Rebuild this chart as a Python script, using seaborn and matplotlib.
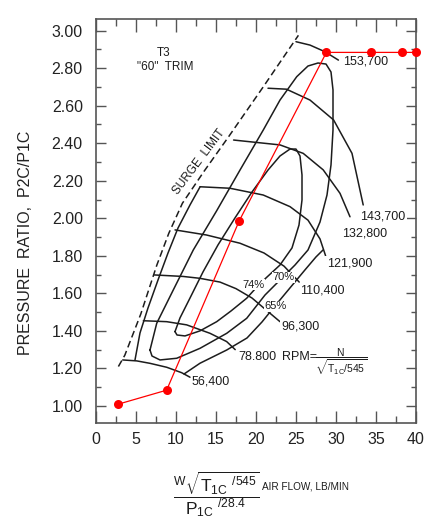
import matplotlib
matplotlib.use('Agg')
import matplotlib.pyplot as plt
import seaborn as sns
from matplotlib.ticker import MultipleLocator, FormatStrFormatter

# operating line (red points)
op_flow = [2.75, 8.83, 17.9, 28.8, 34.35, 38.3, 40.0]
op_pr = [1.009, 1.084, 1.986, 2.884, 2.884, 2.884, 2.884]

# surge limit (dashed)
surge_flow = [2.8, 3.6, 4.6, 5.6, 6.6, 7.6, 9.1, 10.8, 13.5, 16.5, 20.9, 25.3]
surge_pr = [1.21, 1.27, 1.38, 1.49, 1.62, 1.75, 1.92, 2.08, 2.25, 2.43, 2.70, 2.975]

# corrected speed lines
s56_flow = [3.34, 5.09, 6.75, 8.84, 10.71, 11.75]
s56_pr = [1.245, 1.240, 1.227, 1.206, 1.177, 1.153]
s78_flow = [5.92, 8.83, 11.33, 14.25, 16.33, 17.4]
s78_pr = [1.454, 1.449, 1.432, 1.387, 1.343, 1.30]
s96_flow = [7.3, 10.9, 13.0, 15.5, 17.5, 19.5, 21.3, 23.0]
s96_pr = [1.698, 1.690, 1.680, 1.660, 1.625, 1.575, 1.51, 1.449]
s110_flow = [9.88, 13.8, 18.0, 21.0, 23.5, 25.4]
s110_pr = [1.938, 1.911, 1.867, 1.815, 1.745, 1.66]
s121_flow = [13.0, 16.75, 20.9, 24.25, 26.5, 28.0, 28.7]
s121_pr = [2.168, 2.160, 2.124, 2.062, 1.99, 1.89, 1.80]
s132_flow = [17.2, 23.0, 25.9, 28.4, 30.5, 31.75]
s132_pr = [2.417, 2.391, 2.346, 2.258, 2.133, 2.008]
s143_flow = [21.5, 23.8, 26.75, 29.7, 32.0, 33.4]
s143_pr = [2.693, 2.688, 2.630, 2.524, 2.346, 2.071]
s153_flow = [25.0, 26.75, 28.6, 30.3]
s153_pr = [2.941, 2.923, 2.888, 2.843]

speed_labels = ['56,400', '78.800', '96,300', '110,400', '121,900', '132,800', '143,700', '153,700']
speed_label_x = [12.0, 17.8, 23.2, 25.5, 28.84, 30.7, 33.0, 30.9]
speed_label_y = [1.129, 1.263, 1.4225, 1.614, 1.760, 1.920, 2.009, 2.838]

# efficiency contours
e65a_flow = [4.875, 5.5, 6.5, 7.75, 9.0, 10.25, 11.75, 13.0]
e65a_pr = [1.245, 1.389, 1.522, 1.671, 1.815, 1.948, 2.071, 2.167]
e65b_flow = [11.0, 13.0, 16.34, 18.875, 20.75, 22.375, 24.25, 26.125, 27.5, 28.375]
e65b_pr = [1.17, 1.2275, 1.298, 1.362, 1.4475, 1.533, 1.629, 1.725, 1.794, 1.831]
e70_flow = [6.75, 7.59, 9.66, 12.16, 15.09, 18.0, 20.91, 23.0, 25.09, 26.5, 27.75, 28.75, 29.375,
            29.625, 29.625, 29.375, 28.875, 28.0, 26.5, 24.875, 23.375, 21.125, 18.84, 16.34,
            13.0, 10.09, 8.0, 7.0, 6.75]
e70_pr = [1.298, 1.4405, 1.618, 1.831, 2.0405, 2.257, 2.4705, 2.630, 2.7545, 2.8115, 2.8275, 2.822,
          2.7795, 2.684, 2.4705, 2.284, 2.124, 1.980, 1.831, 1.751, 1.687, 1.591, 1.467, 1.387,
          1.307, 1.254, 1.245, 1.266, 1.298]
e74_flow = [9.875, 10.5, 11.75, 13.375, 15.25, 17.375, 19.5, 21.5, 23.0, 24.25, 25.0, 25.5, 25.75,
            25.75, 25.375, 24.5, 23.0, 21.25, 19.875, 18.84, 16.875, 15.09, 13.0, 11.125, 10.125, 9.875]
e74_pr = [1.396, 1.469, 1.575, 1.714, 1.858, 2.002, 2.140, 2.257, 2.332, 2.369, 2.369, 2.332, 2.231,
          2.0975, 1.964, 1.842, 1.751, 1.682, 1.623, 1.574, 1.506, 1.449, 1.400, 1.373, 1.378, 1.396]

eff_labels = ['74%', '70%', '65%']
eff_label_x = [19.66, 23.4, 22.4]
eff_label_y = [1.645, 1.685, 1.530]

sns.set_style('ticks')
plt.rcParams['font.family'] = ['Liberation Sans', 'DejaVu Sans']
plt.rcParams['mathtext.fontset'] = 'custom'
plt.rcParams['mathtext.rm'] = 'Liberation Sans'
plt.rcParams['mathtext.it'] = 'Liberation Sans'

fig = plt.figure(figsize=(4.41, 5.23), dpi=100)
ax = fig.add_axes([96 / 441, 1 - 423 / 523, 320 / 441, 404 / 523])

line_kw = dict(color='#1c1c1c', linewidth=1.1, sort=False, estimator=None)

sns.lineplot(x=surge_flow, y=surge_pr, ax=ax, linestyle=(0, (4.5, 2.5)), **line_kw)

speeds = [(s56_flow, s56_pr), (s78_flow, s78_pr), (s96_flow, s96_pr), (s110_flow, s110_pr),
          (s121_flow, s121_pr), (s132_flow, s132_pr), (s143_flow, s143_pr), (s153_flow, s153_pr)]
for fx, fy in speeds:
    sns.lineplot(x=fx, y=fy, ax=ax, **line_kw)

for fx, fy in [(e65a_flow, e65a_pr), (e65b_flow, e65b_pr), (e70_flow, e70_pr), (e74_flow, e74_pr)]:
    sns.lineplot(x=fx, y=fy, ax=ax, **line_kw)

for lab, lx, ly in zip(speed_labels, speed_label_x, speed_label_y):
    ax.text(lx, ly, lab, fontsize=9, ha='left', va='center', color='#1c1c1c',
            bbox=dict(boxstyle='square,pad=0.1', fc='white', ec='none'))

for lab, lx, ly in zip(eff_labels, eff_label_x, eff_label_y):
    ax.text(lx, ly, lab, fontsize=8, ha='center', va='center', color='#1c1c1c',
            bbox=dict(boxstyle='square,pad=0.05', fc='white', ec='none'))

# operating line
sns.lineplot(x=op_flow, y=op_pr, ax=ax, color='red', linewidth=0.9, marker='o', markersize=6.5,
             markeredgewidth=0, sort=False, estimator=None, clip_on=False, zorder=5)

# annotations
ax.text(8.4, 2.879, 'T3', fontsize=8.5, ha='center', va='center', color='#1c1c1c')
ax.text(8.6, 2.808, '"60"  TRIM', fontsize=8.5, ha='center', va='center', color='#1c1c1c')
ax.text(12.9, 2.30, 'SURGE  LIMIT', fontsize=8.5, ha='center', va='center', rotation=53,
        rotation_mode='anchor', color='#1c1c1c')
ax.text(23.2, 1.263, 'RPM=', fontsize=9, ha='left', va='center', color='#1c1c1c')
ax.text(30.6, 1.235, r'$\dfrac{N}{\sqrt{T_{1C}/545}}$', fontsize=7.5, ha='center', va='center',
        color='#1c1c1c')

ax.set_xlim(0, 40)
ax.set_ylim(0.909, 3.062)
ax.xaxis.set_major_locator(MultipleLocator(5))
ax.xaxis.set_minor_locator(MultipleLocator(2.5))
ax.yaxis.set_major_locator(MultipleLocator(0.2))
ax.yaxis.set_minor_locator(MultipleLocator(0.1))
ax.yaxis.set_major_formatter(FormatStrFormatter('%.2f'))

ax.tick_params(which='both', direction='in', top=True, right=True, color='#555555', width=1.0,
               labelcolor='#222222')
ax.tick_params(axis='x', which='major', length=9, pad=6.5, labelsize=11.5)
ax.tick_params(axis='x', which='minor', length=5)
ax.tick_params(axis='y', which='major', length=7, pad=9.5, labelsize=11.5)
ax.tick_params(axis='y', which='minor', length=3.5)
for s in ax.spines.values():
    s.set_color('#555555')
    s.set_linewidth(1.2)

ax.set_xlabel('')
ax.set_ylabel('PRESSURE  RATIO,  P2C/P1C', fontsize=11.5, color='#222222')
ax.yaxis.set_label_coords(-0.197, 0.447)

# x-axis label (corrected flow)
ax.text(0.376, -0.175, r'$\dfrac{{}^{W}\sqrt{T_{1C}\ ^{/545}}}{P_{1C}\ ^{/28.4}}$', fontsize=12.5,
        ha='center', va='center', transform=ax.transAxes, clip_on=False, color='#1c1c1c')
ax.text(0.518, -0.156, 'AIR FLOW, LB/MIN', fontsize=7.2, ha='left', va='center',
        transform=ax.transAxes, clip_on=False, color='#1c1c1c')

fig.savefig('out.png', dpi=100, facecolor='white')
